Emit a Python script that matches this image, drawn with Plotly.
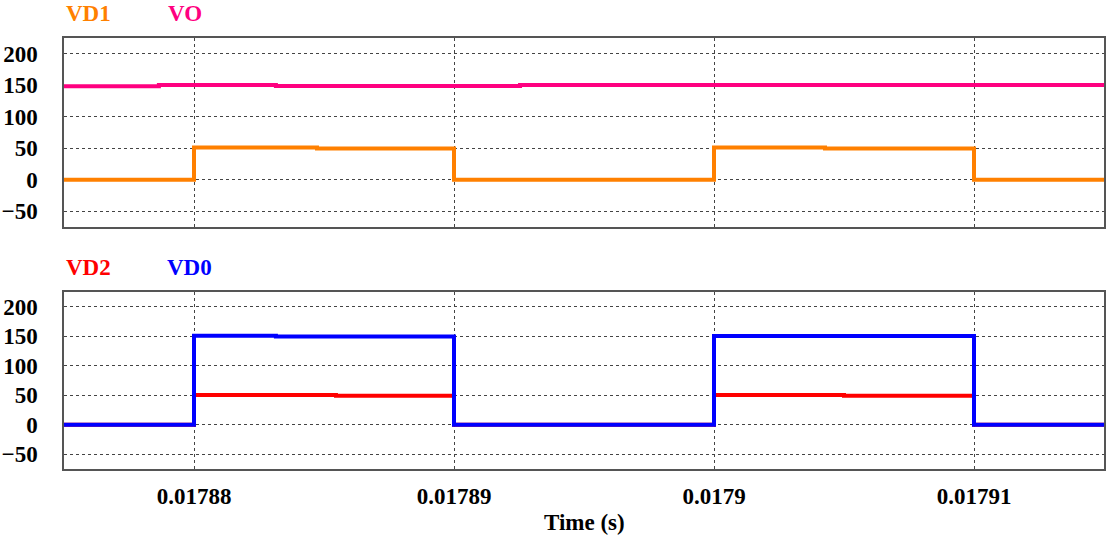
import plotly.graph_objects as go
from plotly.subplots import make_subplots

# ---- data ----
vd1_t = [0.017875, 0.01788, 0.01788473, 0.01789, 0.0179, 0.01790427, 0.01791, 0.017915]
vd1 = [0, 51, 49.5, 0, 51, 49.5, 0, 0]

vo_t = [0.017875, 0.01787865, 0.01788315, 0.01789254, 0.017915]
vo = [148.5, 150.5, 149, 150.5, 150.5]

vd2_t = [0.017875, 0.01788, 0.01788546, 0.01789, 0.0179, 0.0179050, 0.01791, 0.017915]
vd2 = [0, 50.5, 49, 0, 50.5, 49, 0, 0]

vd0_t = [0.017875, 0.01788, 0.01788315, 0.01789, 0.0179, 0.01791, 0.017915]
vd0 = [0, 151, 149.5, 0, 150.5, 0, 0]

x_tickvals = [0.01788, 0.01789, 0.0179, 0.01791]
x_ticktext = ["0.01788", "0.01789", "0.0179", "0.01791"]
y_tickvals = [-50, 0, 50, 100, 150, 200]

FONT = "Liberation Serif, Times New Roman, serif"
FS = 23

fig = make_subplots(rows=2, cols=1, shared_xaxes=False, vertical_spacing=0.15)

fig.add_trace(go.Scatter(x=vo_t, y=vo, mode="lines", line=dict(color="#FF0080", width=4, shape="hv"), name="VO"), row=1, col=1)
fig.add_trace(go.Scatter(x=vd1_t, y=vd1, mode="lines", line=dict(color="#FF8000", width=4, shape="hv"), name="VD1"), row=1, col=1)
fig.add_trace(go.Scatter(x=vd2_t, y=vd2, mode="lines", line=dict(color="#FF0000", width=4, shape="hv"), name="VD2"), row=2, col=1)
fig.add_trace(go.Scatter(x=vd0_t, y=vd0, mode="lines", line=dict(color="#0000FF", width=4, shape="hv"), name="VD0"), row=2, col=1)

axis_common = dict(
    showline=True, mirror=True, linecolor="#555555", linewidth=1.5,
    showgrid=True, gridcolor="#444444", gridwidth=1, griddash="3px,3px",
    zeroline=False, ticks="", automargin=False,
)

for r in (1, 2):
    fig.update_xaxes(range=[0.017875, 0.017915], tickvals=x_tickvals, ticktext=x_ticktext,
                     showticklabels=(r == 2), ticklabelstandoff=6,
                     tickfont=dict(family=FONT, size=FS, color="black", weight="bold"),
                     row=r, col=1, **axis_common)
    fig.update_yaxes(range=[-75, 225], tickvals=y_tickvals, ticklabelstandoff=20,
                     tickfont=dict(family=FONT, size=FS, color="black", weight="bold"),
                     row=r, col=1, **axis_common)

fig.update_layout(
    xaxis=dict(domain=[0, 1]), xaxis2=dict(domain=[0, 1]),
    yaxis=dict(domain=[0.5615, 1.0]), yaxis2=dict(domain=[0.0, 0.4107]),
)

annots = [
    ("VD1", 0.0, 1.0568, "#FF8000"),
    ("VO", 0.098, 1.0568, "#FF0080"),
    ("VD2", 0.0, 0.4675, "#FF0000"),
    ("VD0", 0.097, 0.4675, "#0000FF"),
]
for txt, x, y, c in annots:
    fig.add_annotation(text=txt, x=x, y=y, xref="paper", yref="paper", xanchor="left", yanchor="middle",
                       showarrow=False, font=dict(family=FONT, size=FS, color=c, weight="bold"))

fig.add_annotation(text="Time (s)", x=0.5, y=-0.125, xref="paper", yref="paper", xanchor="center", yanchor="middle",
                   showarrow=False, font=dict(family=FONT, size=FS, color="black", weight="bold"))

fig.update_layout(
    width=1113, height=543,
    margin=dict(l=64, r=9, t=38, b=74, autoexpand=False),
    plot_bgcolor="white", paper_bgcolor="white",
    showlegend=False,
)

# remove the browser's default body margin so the figure sits at the page's top-left corner
fig.write_html("out.html", config={"displayModeBar": False},
               post_script="document.body.style.margin='0';document.body.style.overflow='hidden';")
